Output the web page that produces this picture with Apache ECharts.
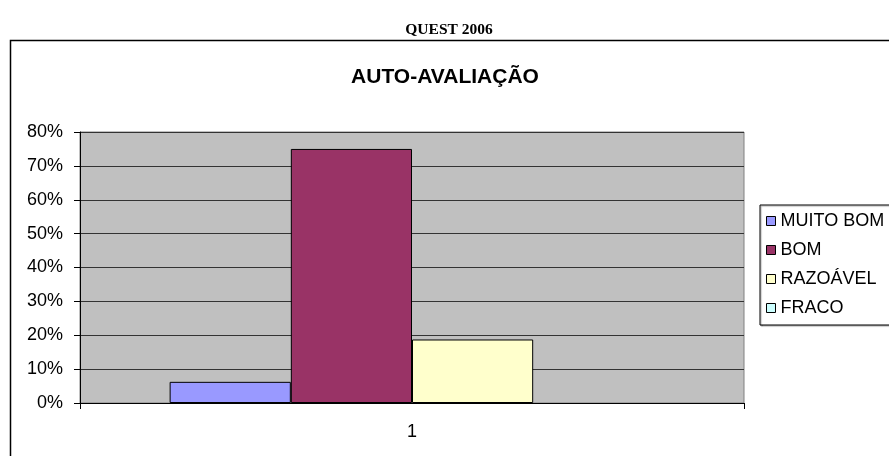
<!DOCTYPE html>
<html>
<head>
<meta charset="utf-8">
<script src="https://cdn.jsdelivr.net/npm/echarts@6/dist/echarts.min.js"></script>
<style>
html, body { margin: 0; padding: 0; background: #fff; }
#chart { width: 889px; height: 456px; }
</style>
</head>
<body>
<div id="chart"></div>
<script>
// dados
const categories = ['1'];
const seriesNames = ['MUITO BOM', 'BOM', 'RAZOÁVEL', 'FRACO'];
const seriesValues = [[0.0625], [0.75], [0.1875], [0]];
const seriesColors = ['#9999FF', '#993366', '#FFFFCC', '#CCFFFF'];
const yTicks = [0, 0.1, 0.2, 0.3, 0.4, 0.5, 0.6, 0.7, 0.8];

const chart = echarts.init(document.getElementById('chart'));

const series = seriesNames.map((name, i) => ({
    name: name,
    type: 'bar',
    data: seriesValues[i],
    barGap: '0%',
    barCategoryGap: '27%',
    itemStyle: {
        color: seriesColors[i],
        borderColor: '#000',
        borderWidth: seriesValues[i][0] > 0 ? 1 : 0
    }
}));

chart.setOption({
    animation: false,
    title: [
        {
            text: 'QUEST 2006', left: 444, textAlign: 'center', top: 17,
            textStyle: { fontFamily: 'Liberation Serif', fontWeight: 'bold', fontSize: 15.5, color: '#000' }
        },
        {
            text: 'AUTO-AVALIAÇÃO', left: 440, textAlign: 'center', top: 62,
            textStyle: { fontFamily: 'Liberation Sans', fontWeight: 'bold', fontSize: 21, color: '#000' }
        }
    ],
    graphic: [{
        type: 'rect', silent: true,
        shape: { x: 10.5, y: 40.5, width: 900, height: 500 },
        style: { fill: 'none', stroke: '#000', lineWidth: 1.5 }
    }],
    legend: {
        orient: 'vertical', left: 760, top: 205,
        data: seriesNames,
        icon: 'rect', itemWidth: 9, itemHeight: 9, itemGap: 11,
        padding: [7, 60, 8, 6],
        borderColor: '#000', borderWidth: 1, backgroundColor: '#fff',
        shadowColor: 'rgba(0,0,0,0.35)', shadowOffsetX: 1, shadowOffsetY: 1, shadowBlur: 1,
        itemStyle: { borderColor: '#000', borderWidth: 1 },
        textStyle: { fontFamily: 'Liberation Sans', fontSize: 18, color: '#000', padding: [0, 0, 0, 0] }
    },
    grid: {
        left: 80, right: 145, top: 132, bottom: 53,
        show: true, backgroundColor: '#C0C0C0', borderColor: '#808080', borderWidth: 1
    },
    xAxis: {
        type: 'category', data: categories,
        axisLine: { lineStyle: { color: '#000' } },
        axisTick: { show: true, length: 6, lineStyle: { color: '#000' } },
        axisLabel: { fontFamily: 'Liberation Sans', fontSize: 18, color: '#000', margin: 20 }
    },
    yAxis: {
        type: 'value', min: yTicks[0], max: yTicks[yTicks.length - 1], interval: 0.1,
        axisLine: { show: true, lineStyle: { color: '#000' } },
        axisTick: { show: true, length: 6, lineStyle: { color: '#000' } },
        axisLabel: {
            fontFamily: 'Liberation Sans', fontSize: 18, color: '#000', margin: 17,
            formatter: v => Math.round(v * 100) + '%'
        },
        splitLine: { lineStyle: { color: '#333', width: 1 } }
    },
    series: series
});
</script>
</body>
</html>
